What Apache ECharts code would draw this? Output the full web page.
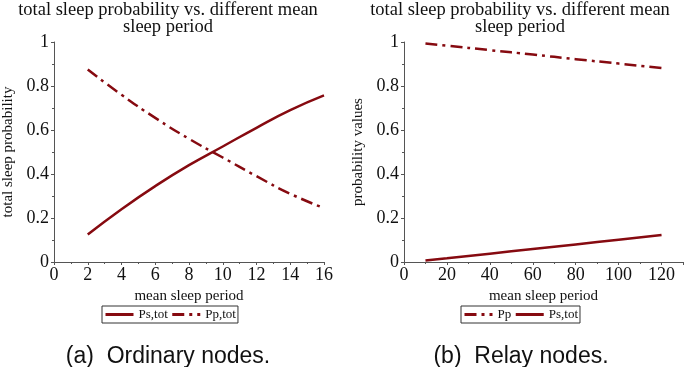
<!DOCTYPE html>
<html>
<head>
<meta charset="utf-8">
<script src="https://cdn.jsdelivr.net/npm/echarts@6/dist/echarts.min.js"></script>
<style>
  html, body { margin: 0; padding: 0; background: #fff; }
  #chart { width: 685px; height: 367px; }
</style>
</head>
<body>
<div id="chart"></div>
<script>
// (a) ordinary nodes
var periodA = [2, 4, 6, 8, 10, 12, 14, 16];
var psTotA = [0.125, 0.24, 0.345, 0.44, 0.525, 0.61, 0.69, 0.757];
var ppTotA = [0.875, 0.76, 0.655, 0.56, 0.475, 0.39, 0.31, 0.245];

// (b) relay nodes
var periodB = [10, 20, 40, 60, 80, 100, 120];
var ppB = [0.993, 0.983, 0.963, 0.943, 0.922, 0.902, 0.882];
var psTotB = [0.007, 0.017, 0.038, 0.059, 0.08, 0.101, 0.123];

var red = "#860a10";
var serif = "Liberation Serif";
var axisGray = "#555";
var dashDot = [12, 5, 3, 5];

function pairs(xs, ys) {
  return xs.map(function (x, i) { return [x, ys[i]]; });
}

function xAxisCfg(idx, max, interval, showMax) {
  return {
    gridIndex: idx,
    type: "value",
    min: 0,
    max: max,
    interval: interval,
    name: "mean sleep period",
    nameLocation: "middle",
    nameGap: 24,
    nameTextStyle: { fontFamily: serif, fontSize: 15, color: "#111" },
    axisLine: { lineStyle: { color: axisGray, width: 1 } },
    axisTick: { show: true, length: 3, lineStyle: { color: axisGray } },
    minorTick: { show: true, splitNumber: 2, length: 2, lineStyle: { color: axisGray } },
    axisLabel: { fontFamily: serif, fontSize: 18, color: "#111", margin: 4, showMaxLabel: showMax },
    splitLine: { show: false }
  };
}

function yAxisCfg(idx, name) {
  return {
    gridIndex: idx,
    type: "value",
    min: 0,
    max: 1,
    interval: 0.2,
    name: name,
    nameLocation: "middle",
    nameGap: 38,
    nameTextStyle: { fontFamily: serif, fontSize: 15, color: "#111" },
    axisLine: { show: true, lineStyle: { color: axisGray, width: 1 } },
    axisTick: { show: true, length: 3, lineStyle: { color: axisGray } },
    minorTick: { show: true, splitNumber: 2, length: 2, lineStyle: { color: axisGray } },
    axisLabel: { fontFamily: serif, fontSize: 18, color: "#111", margin: 5 },
    splitLine: { show: false }
  };
}

function lineSeries(name, idx, data, dashed) {
  return {
    name: name,
    type: "line",
    xAxisIndex: idx,
    yAxisIndex: idx,
    data: data,
    smooth: true,
    symbol: "none",
    color: red,
    lineStyle: { color: red, width: 2.5, type: dashed ? dashDot : "solid" }
  };
}

var titleStyle = { fontFamily: serif, fontSize: 18.5, fontWeight: "normal", color: "#111", lineHeight: 17 };
var captionStyle = { fontFamily: "Liberation Sans", fontSize: 23, fontWeight: "normal", color: "#111" };
var legendText = { fontFamily: serif, fontSize: 13, color: "#111" };

function legendCfg(names, left) {
  return {
    data: names,
    left: left, top: 306,
    orient: "horizontal",
    itemWidth: 28, itemHeight: 12, itemGap: 3,
    padding: [2, 2],
    borderColor: "#333", borderWidth: 1,
    itemStyle: { opacity: 0 },
    lineStyle: { width: 3, color: red, opacity: 1 },
    textStyle: legendText,
    formatter: function (n) { return n.trim(); }
  };
}

var option = {
  backgroundColor: "#fff",
  animation: false,
  title: [
    { text: "total sleep probability vs. different mean\nsleep period", left: 168, top: 2, padding: 0, textAlign: "center", textStyle: titleStyle },
    { text: "total sleep probability vs. different mean\nsleep period", left: 520, top: 2, padding: 0, textAlign: "center", textStyle: titleStyle },
    { text: "(a)  Ordinary nodes.", left: 163, top: 340, textAlign: "center", textStyle: captionStyle },
    { text: "(b)  Relay nodes.", left: 516, top: 340, textAlign: "center", textStyle: captionStyle }
  ],
  grid: [
    { left: 53, top: 42, width: 271, height: 220 },
    { left: 404, top: 42, width: 279, height: 220 }
  ],
  legend: [
    legendCfg(["Ps,tot", "Pp,tot"], 102),
    legendCfg(["Pp", "Ps,tot "], 461)
  ],
  xAxis: [xAxisCfg(0, 16, 2, true), xAxisCfg(1, 130, 20, false)],
  yAxis: [yAxisCfg(0, "total sleep probability"), yAxisCfg(1, "probability values")],
  series: [
    lineSeries("Ps,tot", 0, pairs(periodA, psTotA), false),
    lineSeries("Pp,tot", 0, pairs(periodA, ppTotA), true),
    lineSeries("Pp", 1, pairs(periodB, ppB), true),
    lineSeries("Ps,tot ", 1, pairs(periodB, psTotB), false)
  ]
};

var myChart = echarts.init(document.getElementById("chart"));
myChart.setOption(option);
</script>
</body>
</html>
